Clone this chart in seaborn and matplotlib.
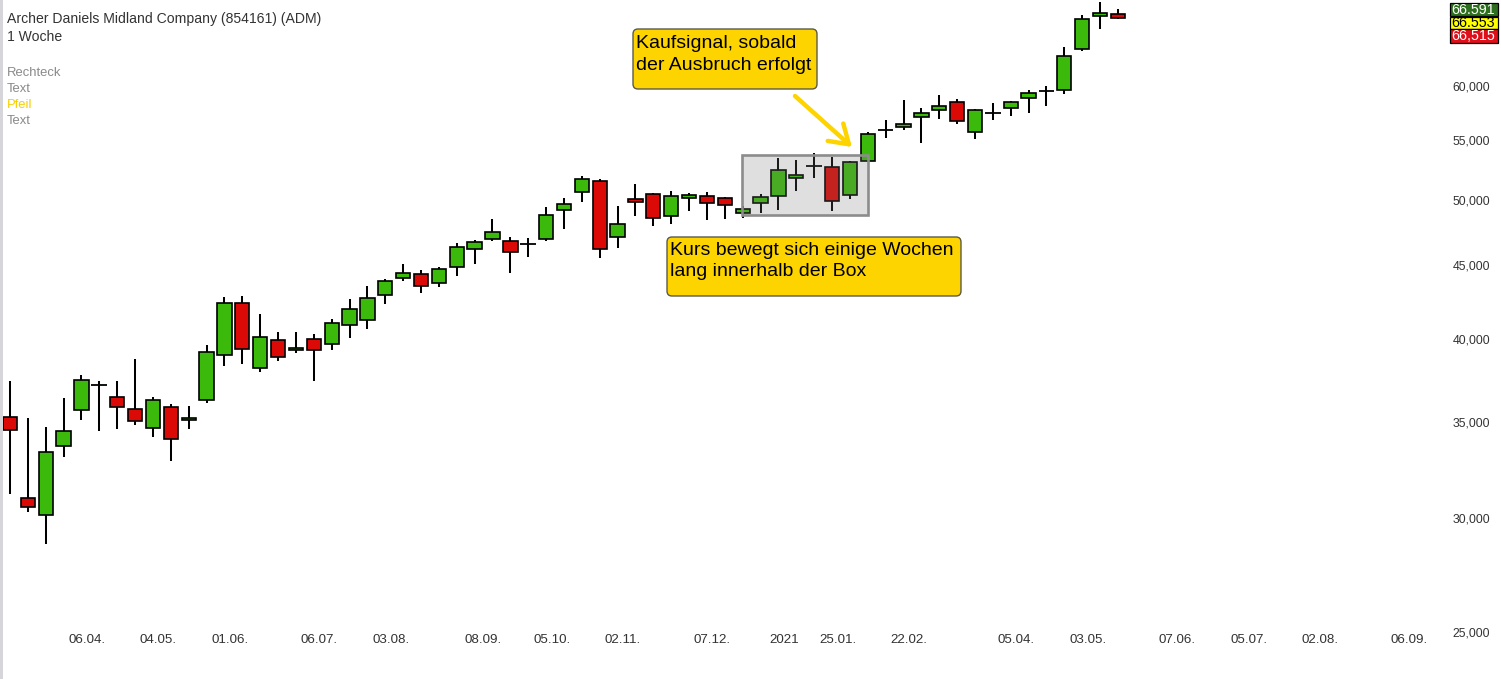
import numpy as np
import pandas as pd
import matplotlib
matplotlib.use("Agg")
import matplotlib.pyplot as plt
import seaborn as sns
from matplotlib.patches import Rectangle, FancyBboxPatch, FancyArrowPatch
from matplotlib.transforms import Affine2D
from matplotlib.ticker import NullLocator

# ---------------- data ----------------
first_week = "2020-03-09"
opens = [35.31, 30.98, 30.16, 33.67, 35.71, 37.13, 36.43, 35.73, 34.66, 35.85, 35.11, 36.25, 38.96, 42.35,
         38.16, 39.91, 39.28, 39.97, 39.65, 40.88, 41.21, 42.90, 44.08, 44.37, 43.73, 44.87, 46.18, 46.93,
         46.78, 46.56, 46.93, 49.16, 50.60, 51.50, 47.08, 50.03, 50.44, 48.69, 50.11, 50.28, 50.11, 48.93,
         49.71, 50.28, 51.75, 52.78, 52.67, 50.36, 53.18, 55.89, 56.16, 57.07, 57.71, 58.48, 55.71, 57.44,
         57.90, 58.86, 59.52, 59.62, 63.71, 67.17, 67.32]
closes = [34.55, 30.55, 33.35, 34.49, 37.43, 37.13, 35.88, 35.05, 36.25, 34.05, 35.22, 39.15, 42.35, 39.34,
          40.10, 38.84, 39.40, 39.28, 41.01, 41.95, 42.69, 43.87, 44.44, 43.52, 44.72, 46.33, 46.70, 47.46,
          45.96, 46.56, 48.77, 49.64, 51.67, 46.18, 48.07, 49.79, 48.54, 50.28, 50.36, 49.71, 49.55, 49.24,
          50.20, 52.42, 52.00, 52.78, 49.87, 53.09, 55.54, 55.89, 56.43, 57.44, 58.08, 56.71, 57.71, 57.44,
          58.48, 59.33, 59.52, 62.93, 66.78, 67.43, 66.95]
highs = [37.41, 35.22, 34.72, 36.37, 37.75, 37.41, 37.41, 38.73, 36.43, 36.02, 35.89, 39.59, 42.76, 42.83,
         41.61, 40.43, 40.43, 40.30, 41.28, 42.63, 43.51, 44.02, 45.08, 44.65, 44.87, 46.63, 46.85, 48.46,
         47.08, 47.01, 49.40, 50.11, 51.92, 51.67, 49.47, 51.25, 50.52, 50.68, 50.52, 50.60, 50.20, 49.47,
         50.44, 53.43, 53.26, 53.86, 53.52, 53.18, 55.71, 56.80, 58.67, 57.90, 59.15, 58.76, 57.80, 58.39,
         58.57, 59.62, 60.02, 63.85, 67.21, 68.63, 67.86]
lows = [31.18, 30.29, 28.78, 33.12, 35.11, 34.53, 34.60, 34.83, 34.16, 32.87, 34.59, 36.11, 38.32, 38.40,
        37.92, 38.59, 39.09, 37.37, 39.28, 40.04, 40.62, 42.28, 43.87, 43.04, 43.45, 44.23, 45.08, 46.78,
        44.44, 45.60, 46.78, 47.69, 49.79, 45.52, 46.26, 48.69, 47.92, 48.07, 49.08, 48.38, 48.46, 48.54,
        48.93, 49.16, 50.68, 51.75, 49.08, 50.03, 53.10, 55.18, 55.89, 54.74, 56.89, 56.43, 55.09, 56.80,
        57.16, 57.44, 58.08, 59.28, 63.50, 65.78, 66.85]

xtick_dates = ["2020-04-06", "2020-05-04", "2020-06-01", "2020-07-06", "2020-08-03", "2020-09-08",
               "2020-10-05", "2020-11-02", "2020-12-07", "2021-01-04", "2021-01-25", "2021-02-22",
               "2021-04-05", "2021-05-03", "2021-06-07", "2021-07-05", "2021-08-02", "2021-09-06"]
xtick_labels = ["06.04.", "04.05.", "01.06.", "06.07.", "03.08.", "08.09.", "05.10.", "02.11.", "07.12.",
                "2021", "25.01.", "22.02.", "05.04.", "03.05.", "07.06.", "05.07.", "02.08.", "06.09."]
ytick_values = [25, 30, 35, 40, 45, 50, 55, 60]
ytick_labels = ["25,000", "30,000", "35,000", "40,000", "45,000", "50,000", "55,000", "60,000"]

title = "Archer Daniels Midland Company (854161) (ADM)"
period = "1 Woche"
legend_items = ["Rechteck", "Text", "Pfeil", "Text"]
legend_colors = ["#8a8a8a", "#8a8a8a", "#f5d000", "#8a8a8a"]
box_range = (40.95, 48.0, 48.82, 53.69)  # x0, x1 (week index), low, high price of the range box
note_buy = "Kaufsignal, sobald\nder Ausbruch erfolgt"
note_box = "Kurs bewegt sich einige Wochen\nlang innerhalb der Box"
price_tags = ["66.591", "66.553", "66,515"]
price_tag_colors = ["#2d6e1f", "#ffff00", "#e0101a"]
price_tag_text = ["white", "black", "white"]

# ---------------- style ----------------
sns.set_theme(style="white")
plt.rcParams["font.family"] = ["Liberation Sans", "DejaVu Sans"]

W, H = 1501, 679
fig = plt.figure(figsize=(W / 100, H / 100), dpi=100)
fig.patch.set_facecolor("white")
ax = fig.add_axes([0, 0, 1, 1])
ax.set_facecolor("white")
ax.set_yscale("log")

# pixel transform (top-left origin) for overlay elements
pix = Affine2D().scale(1, -1).translate(0, H).scale(1 / W, 1 / H) + fig.transFigure

step = 17.87
ax.set_xlim(-10 / step, (W - 10) / step)
ax.set_ylim(23.18, 68.88)

df = pd.DataFrame({"open": opens, "high": highs, "low": lows, "close": closes})
df["x"] = np.arange(len(df))
green, red = "#3cba0c", "#dc0a06"

ax.vlines(df["x"], df["low"], df["high"], color="black", lw=1.45, zorder=2)
bw = 0.80
for _, r in df.iterrows():
    o, c = r["open"], r["close"]
    if abs(o - c) < 1e-9:
        ax.hlines(o, r["x"] - bw / 2 - 0.04, r["x"] + bw / 2 + 0.04, color="black", lw=1.3, zorder=3)
    else:
        col = green if c > o else red
        ax.bar(r["x"], abs(c - o), bottom=min(o, c), width=bw, color=col,
               edgecolor="black", linewidth=1.2, zorder=3)

# range box
bx0, bx1, blo, bhi = box_range
ax.add_patch(Rectangle((bx0, blo), bx1 - bx0, bhi - blo, facecolor=(118/255, 118/255, 118/255),
                       alpha=0.227, edgecolor="none", zorder=5))
ax.add_patch(Rectangle((bx0, blo), bx1 - bx0, bhi - blo, facecolor="none",
                       edgecolor="#8c8c8c", lw=1.9, zorder=6))

# axes ticks
ax.yaxis.set_minor_locator(NullLocator())
ax.set_yticks(ytick_values)
ax.set_yticklabels(ytick_labels)
ax.yaxis.tick_right()
ax.tick_params(axis="y", length=0, pad=-7.9, labelsize=8.8, labelcolor="#333333")
for t in ax.get_yticklabels():
    t.set_horizontalalignment("right")

start = pd.Timestamp(first_week)
xpos = [(pd.Timestamp(d) - start).days / 7 + 0.31 for d in xtick_dates]
ax.xaxis.set_minor_locator(NullLocator())
ax.set_xticks(xpos)
ax.set_xticklabels(xtick_labels)
ax.tick_params(axis="x", length=0, pad=-32.5, labelsize=9.6, labelcolor="#333333")
sns.despine(ax=ax, left=True, bottom=True, right=True, top=True)
ax.grid(False)

# left border strip
fig.add_artist(Rectangle((0, 0), 3, H, transform=pix, facecolor="#d6d6da", edgecolor="none"))

# header texts
fig.text(7, 23.3, title, transform=pix, fontsize=10.05, color="#333333", va="baseline", ha="left")
fig.text(7, 40.7, period, transform=pix, fontsize=10.05, color="#333333", va="baseline", ha="left")
for k, (s, c) in enumerate(zip(legend_items, legend_colors)):
    fig.text(7, 76 + 16 * k, s, transform=pix, fontsize=9.4, color=c, va="baseline", ha="left")

# yellow notes
def note(x0, y0, w, h, text, baselines):
    fig.add_artist(FancyBboxPatch((x0, y0), w, h, boxstyle="round,pad=0,rounding_size=5",
                                  transform=pix, facecolor="#fdd400", edgecolor="#5a5a4a", lw=1.0))
    for line, yb in zip(text.split("\n"), baselines):
        fig.text(x0 + 2.5, yb, line, transform=pix, fontsize=14, color="black",
                 va="baseline", ha="left")

note(633, 29, 184, 60, note_buy, [48, 69.5])
note(667, 237, 294, 59, note_box, [255, 276.5])

fig.add_artist(FancyArrowPatch(posA=(795, 96), posB=(852, 147), transform=pix,
                               arrowstyle="->,head_length=0.65,head_width=0.42", mutation_scale=20,
                               lw=3.2, color="#fdd400", shrinkA=0, shrinkB=0))

# price tags
tops = [3.3, 16.5, 28.7]
hts = [13.2, 12.2, 14.0]
for s, fc, tc, t, h in zip(price_tags, price_tag_colors, price_tag_text, tops, hts):
    fig.add_artist(Rectangle((1449.5, t), 48.5, h, transform=pix, facecolor=fc,
                             edgecolor="black", lw=0.9))
    fig.text(1473.5, t + h / 2 + 0.5, s, transform=pix, fontsize=10.3, color=tc,
             va="center", ha="center")

fig.savefig("out.png", dpi=100, facecolor="white")
